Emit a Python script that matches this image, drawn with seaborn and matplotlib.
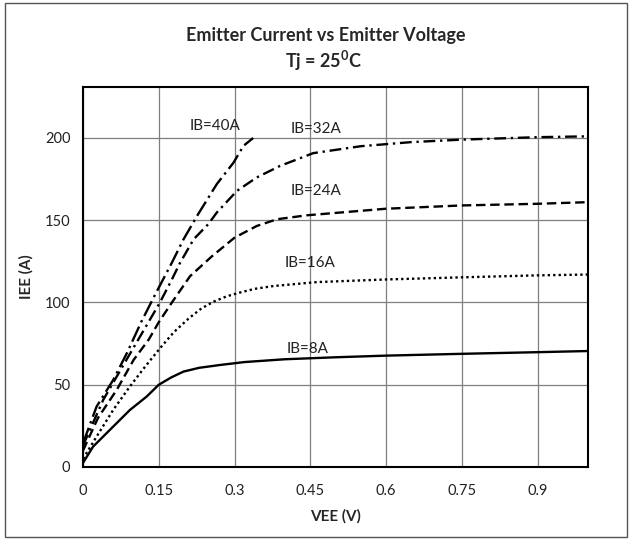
import pandas as pd
import matplotlib
matplotlib.use("Agg")
import matplotlib.pyplot as plt
from matplotlib.patches import Rectangle
import seaborn as sns

# Curves (VEE in V, IEE in A)
vee_8 = [0, 0.02, 0.053, 0.093, 0.126, 0.15, 0.175, 0.199, 0.23, 0.271, 0.32, 0.40, 0.50, 0.60, 0.75, 0.90, 1.00]
iee_8 = [2.5, 12.4, 22.5, 34.7, 42.8, 50, 54.5, 58, 60.3, 62, 63.8, 65.5, 66.7, 67.7, 68.8, 69.8, 70.5]

vee_16 = [0, 0.03, 0.06, 0.093, 0.123, 0.153, 0.18, 0.21, 0.235, 0.26, 0.285, 0.31, 0.34, 0.377, 0.463, 0.60, 0.75, 0.90, 1.00]
iee_16 = [5, 20, 34.8, 49, 61, 72.4, 82, 90.5, 96.5, 100.7, 103.8, 106, 108.3, 110, 112.4, 114, 115.3, 116.5, 117]

vee_24 = [0, 0.03, 0.067, 0.10, 0.13, 0.15, 0.176, 0.212, 0.255, 0.30, 0.344, 0.384, 0.443, 0.60, 0.75, 0.90, 1.00]
iee_24 = [10, 30, 47, 65, 77.4, 88, 100, 116, 128, 139.4, 146.5, 150.6, 153, 157, 159, 160, 161]

vee_32 = [0, 0.04, 0.08, 0.12, 0.152, 0.176, 0.192, 0.219, 0.248, 0.265, 0.305, 0.344, 0.39, 0.456, 0.55, 0.65, 0.75, 0.90, 1.00]
iee_32 = [13, 40.8, 62, 83, 99.8, 114, 124, 138.4, 147.6, 154.7, 167.9, 176, 183, 190.8, 195, 197.5, 199, 200.5, 201]

vee_40 = [0, 0.027, 0.06, 0.087, 0.116, 0.143, 0.176, 0.199, 0.228, 0.265, 0.298, 0.318, 0.337]
iee_40 = [14.4, 36.8, 53, 69.3, 88.6, 104.9, 124.2, 138.4, 153.7, 172, 185, 195.3, 200]

curve_names = ["IB=8A", "IB=16A", "IB=24A", "IB=32A", "IB=40A"]
curve_vee = [vee_8, vee_16, vee_24, vee_32, vee_40]
curve_iee = [iee_8, iee_16, iee_24, iee_32, iee_40]

# label anchor positions (data coords)
label_x = [0.444, 0.45, 0.461, 0.461, 0.262]
label_y = [72, 124, 168, 205.5, 207]

x_ticks = [0, 0.15, 0.3, 0.45, 0.6, 0.75, 0.9]
x_tick_labels = ["0", "0.15", "0.3", "0.45", "0.6", "0.75", "0.9"]
y_ticks = [0, 50, 100, 150, 200]

# long-form table for seaborn
rows = []
for name, xs, ys in zip(curve_names, curve_vee, curve_iee):
    for v, i in zip(xs, ys):
        rows.append({"VEE": v, "IEE": i, "IB": name})
df = pd.DataFrame(rows)

sns.set_style("white")
plt.rcParams["font.family"] = ["Lato", "DejaVu Sans"]
plt.rcParams["mathtext.default"] = "regular"

fig = plt.figure(figsize=(6.3, 5.4), dpi=100)
ax = fig.add_axes([83 / 630, 73 / 540, 505 / 630, 380 / 540])

dash_styles = {
    "IB=8A": "",
    "IB=16A": (1, 1.3),
    "IB=24A": (4, 2),
    "IB=32A": (5, 2, 1, 2),
    "IB=40A": (7, 2, 1, 2),
}

sns.lineplot(data=df, x="VEE", y="IEE", style="IB", dashes=dash_styles,
             color="black", linewidth=1.7, sort=False, estimator=None,
             legend=False, ax=ax)

ax.set_xlim(0, 1.0)
ax.set_ylim(0, 231)
ax.set_xticks(x_ticks)
ax.set_xticklabels(x_tick_labels)
ax.set_yticks(y_ticks)
ax.grid(True, color="#7f7f7f", linewidth=0.9)
ax.set_axisbelow(True)
ax.tick_params(length=0, labelsize=10.5, colors="#222222")
ax.tick_params(axis="x", pad=12)
ax.tick_params(axis="y", pad=9)
for sp in ax.spines.values():
    sp.set_color("black")
    sp.set_linewidth(1.5)

ax.set_xlabel("VEE (V)", fontsize=11, fontweight="bold", labelpad=8)
ax.set_ylabel("IEE (A)", fontsize=11, fontweight="bold", labelpad=8)

for name, lx, ly in zip(curve_names, label_x, label_y):
    ax.text(lx, ly, name, fontsize=11, ha="center", va="center", color="#222222")

fig.text(0.517, 1 - 36 / 540, "Emitter Current vs Emitter Voltage",
         fontsize=13, fontweight="bold", ha="center", va="center")
fig.text(0.513, 1 - 61 / 540, "Tj = 25$^{0}$C",
         fontsize=13, fontweight="bold", ha="center", va="center")

fig.add_artist(Rectangle((5 / 630, 3 / 540), 622 / 630, 534 / 540,
                         transform=fig.transFigure, fill=False,
                         edgecolor="#555555", linewidth=1.0))

fig.savefig("out.png", dpi=100)
